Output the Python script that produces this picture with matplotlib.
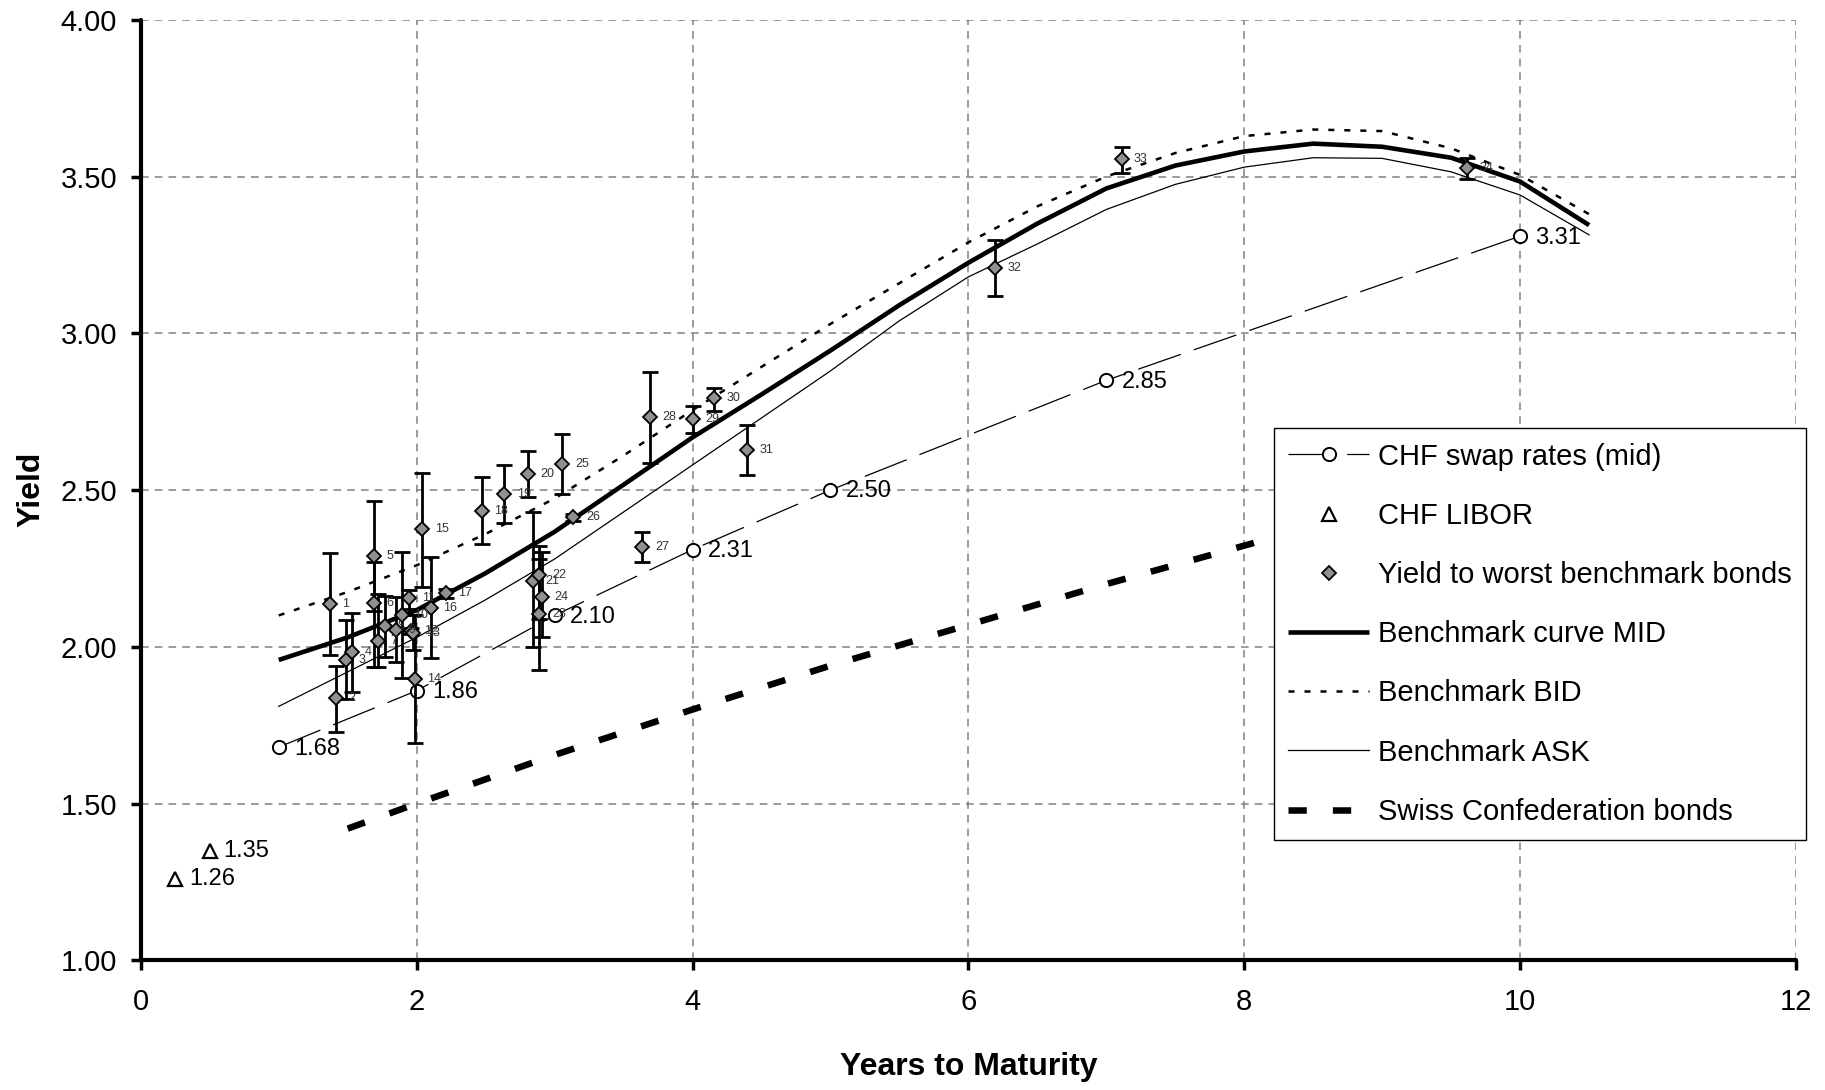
import matplotlib
matplotlib.use("Agg")
import matplotlib.pyplot as plt
import numpy as np

# ---------------- data ----------------
swap_x = [1, 2, 3, 4, 5, 7, 10]
swap_y = [1.68, 1.86, 2.10, 2.31, 2.50, 2.85, 3.31]

libor_x = [0.25, 0.5]
libor_y = [1.26, 1.35]

bond_x = [1.372, 1.416, 1.488, 1.529, 1.691, 1.691, 1.722, 1.771, 1.848, 1.892,
          1.947, 1.960, 1.976, 1.988, 2.041, 2.104, 2.211, 2.472, 2.636, 2.806,
          2.842, 2.890, 2.890, 2.907, 3.057, 3.137, 3.637, 3.692, 4.000, 4.157,
          4.398, 6.190, 7.110, 9.615]
bond_y = [2.136, 1.836, 1.958, 1.982, 2.290, 2.139, 2.020, 2.067, 2.054, 2.101,
          2.155, 2.050, 2.043, 1.896, 2.375, 2.123, 2.171, 2.434, 2.487, 2.551,
          2.211, 2.229, 2.105, 2.160, 2.583, 2.413, 2.317, 2.732, 2.726, 2.793,
          2.628, 3.209, 3.555, 3.526]
bond_hi = [2.298, 1.939, 2.085, 2.107, 2.465, 2.271, 2.168, 2.162, 2.160, 2.303,
           2.180, 2.060, 2.100, 2.100, 2.555, 2.285, 2.185, 2.543, 2.580, 2.626,
           2.431, 2.320, 2.280, 2.303, 2.679, 2.425, 2.367, 2.876, 2.768, 2.826,
           2.708, 3.298, 3.595, 3.558]
bond_lo = [1.974, 1.729, 1.835, 1.857, 2.115, 1.937, 1.937, 1.967, 1.950, 1.900,
           2.120, 2.040, 1.990, 1.692, 2.192, 1.963, 2.157, 2.328, 2.396, 2.479,
           2.000, 2.090, 1.926, 2.030, 2.487, 2.401, 2.270, 2.585, 2.681, 2.752,
           2.548, 3.120, 3.512, 3.491]
bond_labels = [str(i) for i in range(1, 35)]

curve_x = [1, 1.5, 2, 2.5, 3, 3.5, 4, 4.5, 5, 5.5, 6, 6.5, 7, 7.5, 8, 8.5, 9, 9.5, 10, 10.5]
mid_y = [1.958, 2.030, 2.117, 2.235, 2.367, 2.517, 2.668, 2.805, 2.945, 3.090,
         3.225, 3.350, 3.462, 3.535, 3.580, 3.605, 3.595, 3.560, 3.484, 3.345]
bid_y = [2.100, 2.175, 2.260, 2.360, 2.473, 2.610, 2.755, 2.893, 3.030, 3.160,
         3.290, 3.405, 3.500, 3.575, 3.629, 3.650, 3.645, 3.590, 3.505, 3.380]
ask_y = [1.810, 1.920, 2.030, 2.150, 2.280, 2.430, 2.580, 2.730, 2.880, 3.040,
         3.180, 3.285, 3.395, 3.475, 3.530, 3.560, 3.558, 3.515, 3.441, 3.314]

swiss_x = [1.5, 2, 3, 4, 5, 6, 7, 8.1]
swiss_y = [1.42, 1.50, 1.655, 1.80, 1.94, 2.07, 2.20, 2.335]

x_ticks = [0, 2, 4, 6, 8, 10, 12]
y_ticks = [1.00, 1.50, 2.00, 2.50, 3.00, 3.50, 4.00]

legend_labels = ["CHF swap rates (mid)", "CHF LIBOR", "Yield to worst benchmark bonds",
                 "Benchmark curve MID", "Benchmark BID", "Benchmark ASK",
                 "Swiss Confederation bonds"]

# ---------------- fonts ----------------
NARROW = ["Liberation Sans Narrow", "Liberation Sans", "DejaVu Sans"]
ARIAL = ["Liberation Sans", "DejaVu Sans"]
plt.rcParams["font.family"] = NARROW

W, H = 1825, 1090
fig = plt.figure(figsize=(W / 100, H / 100), dpi=100)
ax = fig.add_axes([140.8 / W, 1 - 960.3 / H, (1796 - 140.8) / W, (960.3 - 19.8) / H])

ax.set_xlim(0, 12)
ax.set_ylim(1, 4)
ax.set_xticks(x_ticks)
ax.set_yticks(y_ticks)
ax.set_xticklabels([str(v) for v in x_ticks])
ax.set_yticklabels(["%.2f" % v for v in y_ticks])

for s in ["top", "right"]:
    ax.spines[s].set_visible(False)
for s in ["left", "bottom"]:
    ax.spines[s].set_linewidth(3)
    ax.spines[s].set_capstyle("round")

ax.tick_params(axis="both", direction="out", length=7, width=2.5, labelsize=21, colors="black")
ax.tick_params(axis="y", pad=10)
ax.tick_params(axis="x", pad=13)

ax.grid(True, color="#808080", linestyle=(0, (5, 4)), linewidth=1.1)
ax.set_axisbelow(True)

# curves
h_ask, = ax.plot(curve_x, ask_y, color="black", lw=0.9, zorder=3)
h_bid, = ax.plot(curve_x, bid_y, color="black", lw=1.8, linestyle=(0, (2.4, 4)), zorder=3)
h_mid, = ax.plot(curve_x, mid_y, color="black", lw=3.3, zorder=3, solid_capstyle="butt",
                 solid_joinstyle="round")
h_swiss, = ax.plot(swiss_x, swiss_y, color="black", lw=4.7, linestyle=(0, (2.8, 4)), zorder=3)

# swap rates
h_swap, = ax.plot(swap_x, swap_y, color="black", lw=0.9, linestyle=(0, (36, 11)),
                  marker="o", ms=9.5, mfc="white", mec="black", mew=1.4, zorder=4)
for xv, yv in zip(swap_x, swap_y):
    ax.annotate("%.2f" % yv, (xv, yv), xytext=(11, -1), textcoords="offset points",
                fontsize=17, va="center", ha="left", zorder=6)

# LIBOR
h_libor, = ax.plot(libor_x, libor_y, linestyle="none", marker="^", ms=10,
                   mfc="white", mec="black", mew=1.6, zorder=4)
for xv, yv in zip(libor_x, libor_y):
    ax.annotate("%.2f" % yv, (xv, yv), xytext=(10, 0), textcoords="offset points",
                fontsize=17, va="center", ha="left")

# bonds
bx = np.array(bond_x)
by = np.array(bond_y)
ax.errorbar(bx, by, yerr=[by - np.array(bond_lo), np.array(bond_hi) - by], fmt="none",
            ecolor="black", elinewidth=2, capsize=6, capthick=2, zorder=4)
h_bond, = ax.plot(bx, by, linestyle="none", marker="D", ms=7.6, mfc="#909090",
                  mec="black", mew=1.3, zorder=5)
for xv, yv, lab in zip(bond_x, bond_y, bond_labels):
    ax.annotate(lab, (xv, yv), xytext=(9, 0), textcoords="offset points",
                fontsize=9, va="center", ha="left", color="#333333", zorder=5)

# axis labels
fig.text(31 / W, 1 - 489 / H, "Yield", rotation=90, ha="center", va="center",
         fontsize=23, fontweight="bold")
fig.text(968.5 / W, 1 - 1067 / H, "Years to Maturity", ha="center", va="center",
         fontsize=23, fontweight="bold")

# legend
leg = ax.legend([h_swap, h_libor, h_bond, h_mid, h_bid, h_ask, h_swiss], legend_labels,
                loc="upper right", bbox_to_anchor=(1806 / W, 1 - 428 / H),
                bbox_transform=fig.transFigure, borderaxespad=0,
                prop={"family": ARIAL, "size": 21}, frameon=True, fancybox=False,
                framealpha=1, edgecolor="black", handlelength=2.77, handletextpad=0.3,
                labelspacing=1.07, borderpad=0.5, numpoints=1)
leg.get_frame().set_linewidth(1.0)
leg.set_zorder(10)

fig.savefig("out.png", dpi=100)
